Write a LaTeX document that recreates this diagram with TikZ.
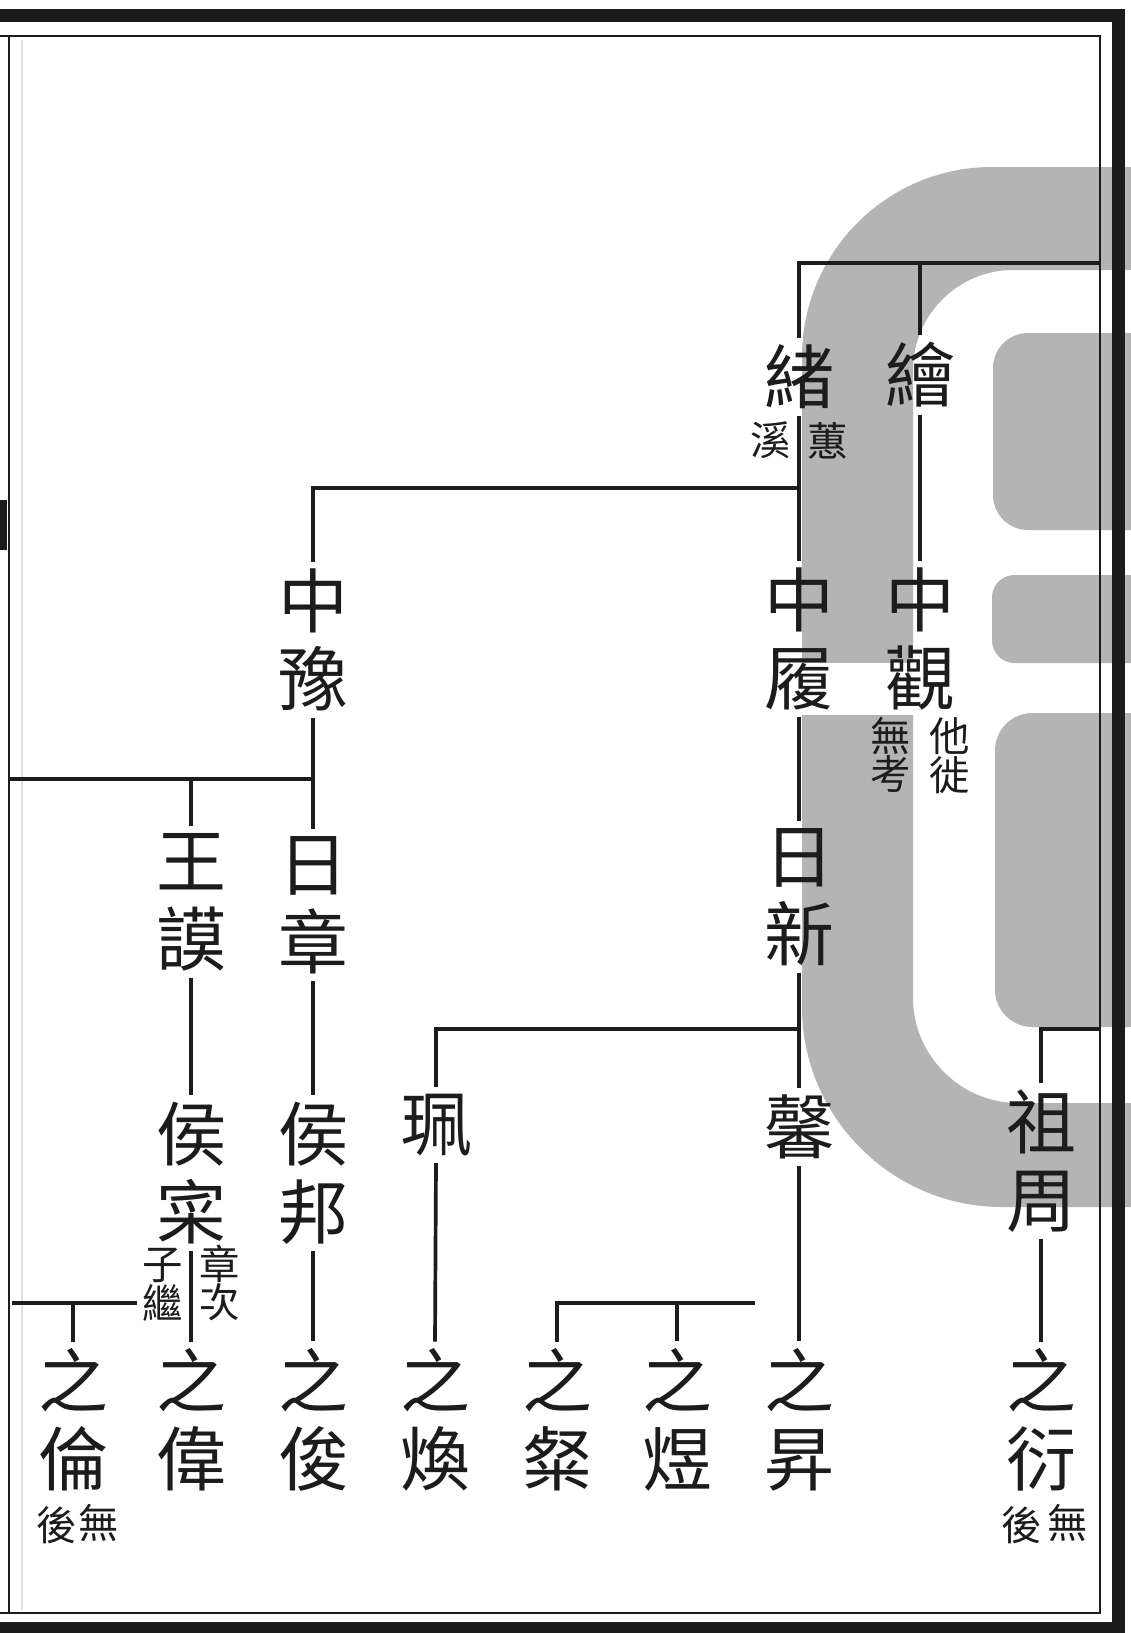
\documentclass[tikz,border=0pt]{standalone}
\usepackage{fontspec}
\newfontfamily\hanzi{Noto Sans CJK TC}
\definecolor{wmgrey}{RGB}{180,180,180}
\definecolor{ink}{RGB}{28,28,28}

\begin{document}
\begin{tikzpicture}[x=0.02cm, y=-0.02cm, color=ink, line width=2.1pt,
		person/.style={font=\hanzi\fontsize{39.8}{44.4}\selectfont, align=center, inner sep=3pt},
		memo/.style={font=\hanzi\fontsize{23}{22}\selectfont, align=center, inner sep=1pt},
		rim/.style={line width=1.4pt}]
		\useasboundingbox (0, 0) rectangle (1131, 1633);
		\fill[white] (0, 0) rectangle (1131, 1633);
		\fill[wmgrey] (1131, 167) -- (992, 167) .. controls (887, 167) and (802, 252) .. (802, 357) -- (802, 1007) .. controls (802, 1117) and (892, 1207) .. (1002, 1207) -- (1131, 1207) -- (1131, 1103) -- (1018, 1103) .. controls (960, 1103) and (913, 1055) .. (913, 998) -- (913, 370) .. controls (913, 315) and (958, 270) .. (1013, 270) -- (1131, 270) -- cycle;
		\fill[white] (801, 663) rectangle (914, 715);
		\fill[wmgrey, rounded corners=0.7cm] (1131, 333) -- (993, 333) -- (993, 530) -- (1131, 530);
		\fill[wmgrey, rounded corners=0.45cm] (1131, 575) -- (992, 575) -- (992, 663) -- (1131, 663);
		\fill[wmgrey, rounded corners=0.75cm] (1131, 713) -- (995, 713) -- (995, 1027) -- (1131, 1027);
		\fill (0, 9) rectangle (1125, 22);
		\fill (1112, 9) rectangle (1125, 1633);
		\fill (0, 1622) rectangle (1125, 1633);
		\fill (0, 500) rectangle (7, 550);
		\draw[rim] (0, 36) -- (1100, 36) -- (1100, 1613) -- (0, 1613);
		\draw[rim] (9, 36) -- (9, 1613);
		\draw[rim, black!12] (22, 40) -- (22, 1610);
		\node[person] at (799, 377) (xu) {緒};
		\node[person] at (920, 375) (hui) {繪};
		\node[memo] at (771, 440) (xi) {溪};
		\node[memo] at (828, 441) (huixi) {蕙};
		\node[person] at (799, 639) (zhonglv) {中\\履};
		\node[person] at (920, 639) (zhongguan) {中\\觀};
		\node[memo] at (950, 756) (taxi) {他\\徙};
		\node[memo] at (891, 755) (wukao) {無\\考};
		\node[person] at (313, 640) (zhongyu) {中\\豫};
		\node[person] at (799, 897) (rixin) {日\\新};
		\node[person] at (313, 905) (rizhang) {日\\章};
		\node[person] at (191, 902) (wangmo) {王\\謨};
		\node[person] at (799, 1127) (xin) {馨};
		\node[person] at (436, 1125) (pei) {珮};
		\node[person] at (1041, 1161) (zuzhou) {祖\\周};
		\node[person] at (313, 1173) (houbang) {侯\\邦};
		\node[person] at (191, 1173) (houcai) {侯\\寀};
		\node[memo] at (220, 1283) (zhangci) {章\\次};
		\node[memo] at (163, 1285) (ziji) {子\\繼};
		\node[person] at (73, 1420) (zhilun) {之\\倫};
		\node[person] at (191, 1420) (zhiwei) {之\\偉};
		\node[person] at (313, 1420) (zhijun) {之\\俊};
		\node[person] at (435, 1420) (zhihuan) {之\\煥};
		\node[person] at (557, 1420) (zhican) {之\\粲};
		\node[person] at (677, 1420) (zhiyu) {之\\煜};
		\node[person] at (799, 1420) (zhisheng) {之\\昇};
		\node[person] at (1041, 1420) (zhiyan) {之\\衍};
		\node[memo] at (99, 1523) (wuA) {無};
		\node[memo] at (57, 1525) (houA) {後};
		\node[memo] at (1068, 1523) (wuB) {無};
		\node[memo] at (1022, 1525) (houB) {後};
		\coordinate (rim1) at (1100, 263);
		\coordinate (rim2) at (1100, 1029);
		\coordinate (rim3) at (9, 779);
		\coordinate (rim4) at (12, 1303);
		\coordinate (j1) at (799, 488);
		\coordinate (j2) at (799, 1029);
		\coordinate (bar1) at (137, 1303);
		\coordinate (bar2) at (755, 1303);
		\draw (rim1) -| (xu.north);
		\draw (hui.north) -- (hui.north |- rim1);
		\draw (xu.south) -- (zhonglv.north);
		\draw (hui.south) -- (zhongguan.north);
		\draw (zhongyu.north) |- (j1);
		\draw (zhonglv.south) -- (rixin.north);
		\draw (rixin.south) -- (xin.north);
		\draw (pei.north) |- (j2);
		\draw (xin.south) -- (zhisheng.north);
		\draw (pei.south) -- (zhihuan.north);
		\draw (zhongyu.south) -- (rizhang.north);
		\draw (rim3) -- (rim3 -| rizhang.north);
		\draw (wangmo.north) -- (wangmo.north |- rim3);
		\draw (rizhang.south) -- (houbang.north);
		\draw (houbang.south) -- (zhijun.north);
		\draw (wangmo.south) -- (houcai.north);
		\draw (houcai.south) -- (zhiwei.north);
		\draw (rim4) -- (bar1);
		\draw (zhilun.north) -- (zhilun.north |- rim4);
		\draw (zhican.north) |- (bar2);
		\draw (zhiyu.north) -- (zhiyu.north |- bar2);
		\draw (rim2) -| (zuzhou.north);
		\draw (zuzhou.south) -- (zhiyan.north);
	\end{tikzpicture}
\end{document}
